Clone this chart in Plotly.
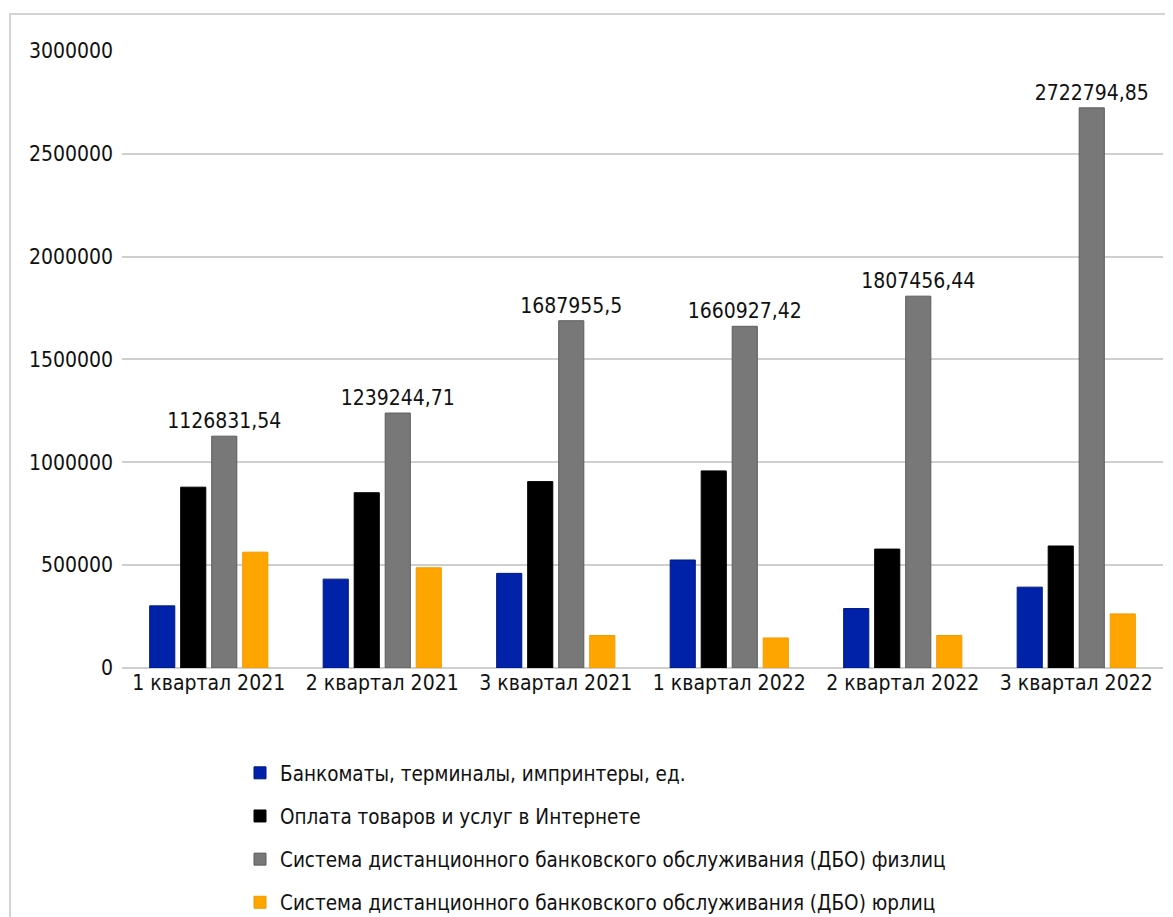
import plotly.graph_objects as go

quarters = ["1 квартал 2021", "2 квартал 2021", "3 квартал 2021",
            "1 квартал 2022", "2 квартал 2022", "3 квартал 2022"]

terminals = [302000, 432000, 460000, 525000, 289000, 393000]
internet = [879000, 852000, 906000, 958000, 578000, 593000]
dbo_fiz = [1126831.54, 1239244.71, 1687955.5, 1660927.42, 1807456.44, 2722794.85]
dbo_jur = [563000, 487000, 158000, 146000, 158000, 263000]

names = [
    "Банкоматы, терминалы, импринтеры, ед.",
    "Оплата товаров и услуг в Интернете",
    "Система дистанционного банковского обслуживания (ДБО) физлиц",
    "Система дистанционного банковского обслуживания (ДБО) юрлиц",
]

FONT = "DejaVu Sans Condensed, Liberation Sans Narrow, sans-serif"

# page has an 8px body margin, so the figure is sized/placed to compensate
W, H = 1165, 909
L, R, T, B = 114, 10, 42, 249
PW, PH = W - L - R, H - T - B

fig = go.Figure()

series = [
    (terminals, "#0022A8", "#001a80"),
    (internet, "#000000", "#000000"),
    (dbo_fiz, "#787878", "#5c5c5c"),
    (dbo_jur, "#FFA500", "#f29a00"),
]

for i, (vals, color, edge) in enumerate(series):
    show_text = i == 2
    fig.add_trace(go.Bar(
        x=quarters,
        y=vals,
        name=names[i],
        legendgroup=f"g{i}",
        marker=dict(color=color, line=dict(color=edge, width=1)),
        text=[str(v).replace(".", ",") for v in vals] if show_text else None,
        textposition="outside" if show_text else None,
        constraintext="none",
        textfont=dict(size=21, color="#111111", family=FONT),
        cliponaxis=False,
    ))

fig.update_layout(
    barmode="group",
    bargap=0.285,
    bargroupgap=0.19,
    width=W,
    height=H,
    paper_bgcolor="white",
    plot_bgcolor="white",
    margin=dict(l=L, r=R, t=T, b=B, autoexpand=False),
    font=dict(family=FONT, size=21, color="#111111"),
    xaxis=dict(
        showgrid=False,
        showline=False,
        ticks="",
        tickfont=dict(size=21),
        automargin=False,
    ),
    yaxis=dict(
        range=[0, 3004000],
        tickvals=[0, 500000, 1000000, 1500000, 2000000, 2500000, 3000000],
        tickformat=".0f",
        showgrid=True,
        gridcolor="#cfcfcf",
        gridwidth=2,
        zeroline=True,
        zerolinecolor="#cfcfcf",
        zerolinewidth=2,
        ticklabelstandoff=8,
        tickfont=dict(size=21),
        automargin=False,
    ),
    legend=dict(
        x=(232 - L) / PW,
        y=-(745 - (H - B)) / PH,
        xanchor="left",
        yanchor="top",
        tracegroupgap=13.5,
        font=dict(size=20.5, family=FONT),
        bgcolor="rgba(0,0,0,0)",
    ),
    shapes=[dict(
        type="rect",
        xref="paper", yref="paper",
        x0=(2 - L) / PW, x1=1.2,
        y0=-1, y1=(H - B - 6) / PH,
        line=dict(color="#d4d4d4", width=2),
        fillcolor="rgba(0,0,0,0)",
        layer="below",
    )],
)

fig.write_html("out.html")
